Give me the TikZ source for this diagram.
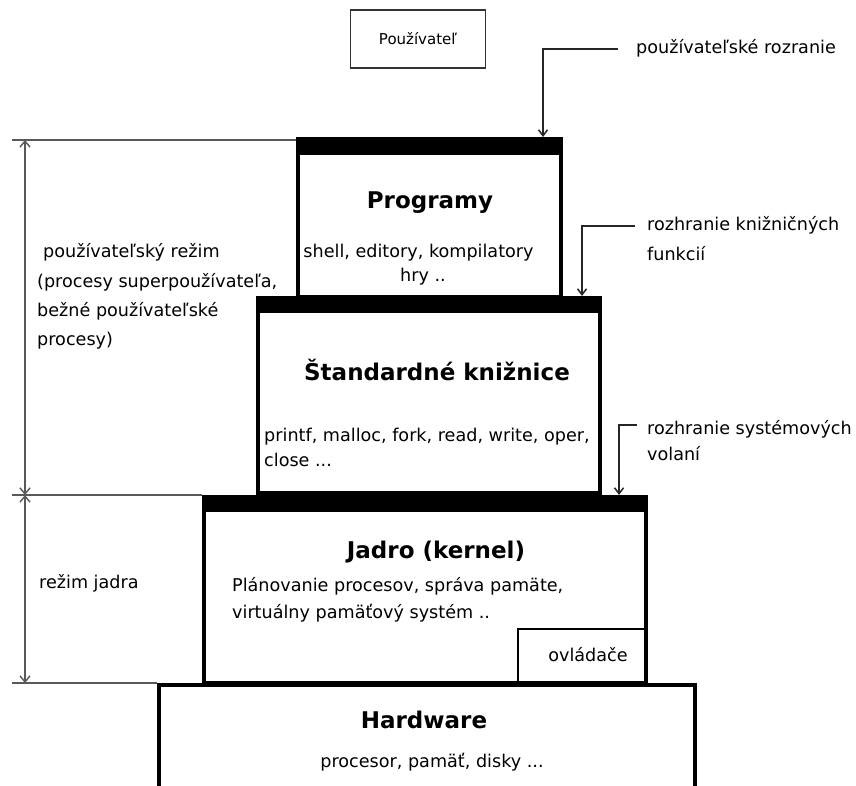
\documentclass[tikz,border=0pt]{standalone}
\usepackage{fontspec}
\setmainfont{DejaVu Sans}
\usetikzlibrary{arrows.meta}
\begin{document}
\begin{tikzpicture}[x=1pt,y=-1pt,
  thickbox/.style={draw, line width=4pt, inner sep=0pt, outer sep=0pt},
  thinbox/.style={draw, line width=1.6pt, inner sep=0pt, outer sep=0pt},
  topbar/.style={fill=black},
  body/.style={font=\fontsize{17.6}{22}\selectfont, inner sep=1pt, text height=13.4pt, text depth=4.2pt},
  title/.style={font=\fontsize{23}{27}\selectfont\bfseries, inner sep=0pt},
  conn/.style={line width=1.5pt, black!85, -{Straight Barb[length=6pt,width=9pt]}},
  dimline/.style={line width=1.4pt, black!65, {Straight Barb[length=6pt,width=10pt]}-{Straight Barb[length=6pt,width=10pt]}},
  guide/.style={line width=1.4pt, black!65}]
\useasboundingbox (0,0) rectangle (856,786);
\fill[white] (0,0) rectangle (856,786);

% boxes
\node[thickbox, minimum width=536pt, minimum height=135pt] (hw) at (427,752.5) {};
\node[thickbox, minimum width=442pt, minimum height=186pt] (ker) at (425,590) {};
\node[thickbox, minimum width=342pt, minimum height=195pt] (lib) at (429,395.5) {};
\node[thickbox, minimum width=263pt, minimum height=158pt] (prog) at (429.5,218) {};
\fill[topbar] (202,495) rectangle (648,512);
\fill[topbar] (256,296) rectangle (602,313);
\fill[topbar] (296,137) rectangle (563,155);
\node[thinbox, minimum width=128pt, minimum height=54pt] (drv) at (582,656) {};
\node[body] (drvT) at (588,657) {ovládače};
\node[thinbox, draw=black!80, font=\fontsize{15}{20}\selectfont, minimum width=135pt, minimum height=58pt] (user) at (418,39) {Používateľ};

% texts in boxes
\node[title] (progT) at (430,203) {Programy};
\node[body] (progA) at (418.5,253) {shell, editory, kompilatory};
\node[body] (progB) at (423,277) {hry ..};
\node[title] (libT) at (437,370) {Štandardné knižnice};
\node[body, anchor=west] (libA) at (263,437) {printf, malloc, fork, read, write, oper,};
\node[body, anchor=west] (libB) at (263,462) {close ...};
\node[title] (kerT) at (436,552) {Jadro (kernel)};
\node[body, anchor=west] (kerA) at (231,587) {Plánovanie procesov, správa pamäte,};
\node[body, anchor=west] (kerB) at (231,614) {virtuálny pamäťový systém ..};
\node[title] (hwT) at (424,720) {Hardware};
\node[body] (hwA) at (432,763) {procesor, pamäť, disky ...};

% interface labels
\node[body, anchor=west] (uiL) at (635,49) {používateľské rozranie};
\coordinate (uiP) at (543,137);
\draw[conn, shorten <=17pt] (uiL.west) -| (uiP);

\node[body, anchor=west] (libL) at (646,226) {rozhranie knižničných};
\node[body, anchor=west] (libL2) at (646,256) {funkcií};
\coordinate (libP) at (582,296);
\draw[conn, shorten <=11pt] (libL.west) -| (libP);

\node[body, anchor=west] (sysL) at (646,430) {rozhranie systémových};
\node[body, anchor=west] (sysL2) at (646,456) {volaní};
\coordinate (sysP) at (619,495);
\draw[conn, shorten <=9pt] ([yshift=5pt]sysL.west) -| (sysP);

% left dimension
\coordinate (d1) at (25,140);
\coordinate (d2) at (25,495);
\coordinate (d3) at (25,683);
\draw[guide] (12,140) -- (296,140);
\draw[guide] (12,495) -- (202,495);
\draw[guide] (12,683) -- (157,683);
\draw[dimline] (d1) -- (d2);
\draw[dimline] (d2) -- (d3);
\node[body, anchor=west] (um1) at (42,253) {používateľský režim};
\node[body, anchor=west] (um2) at (36,283) {(procesy superpoužívateľa,};
\node[body, anchor=west] (um3) at (36,312) {bežné používateľské};
\node[body, anchor=west] (um4) at (36,341) {procesy)};
\node[body, anchor=west] (kmode) at (38,584) {režim jadra};
\end{tikzpicture}
\end{document}
